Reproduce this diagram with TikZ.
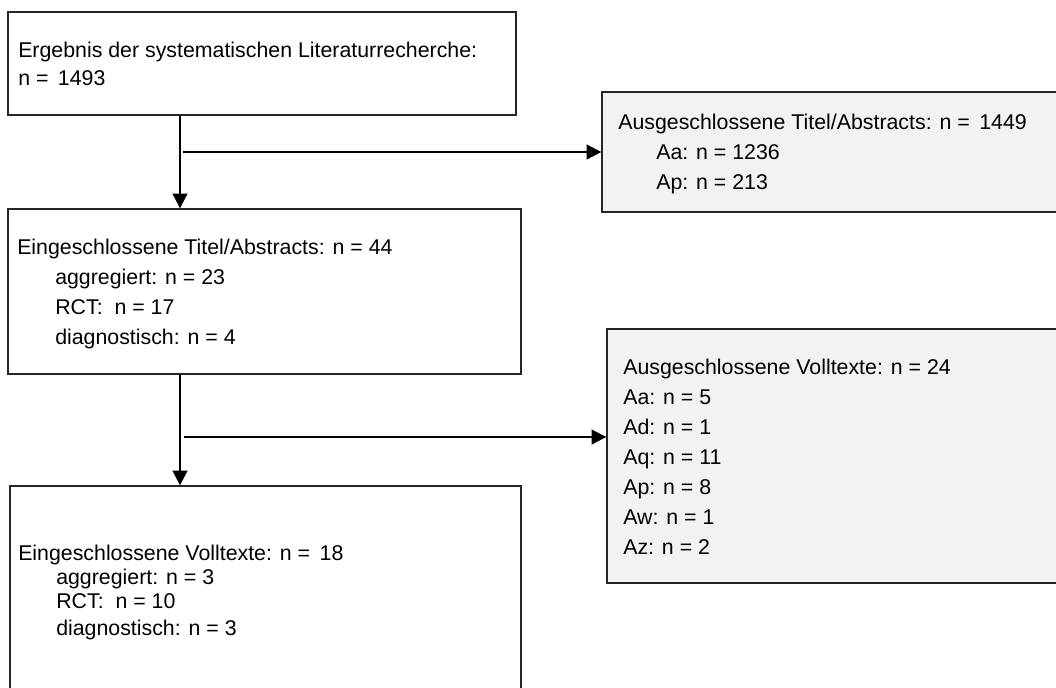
\documentclass[tikz,border=0pt]{standalone}
\usepackage{fontspec}
\setmainfont{Liberation Sans}
\usetikzlibrary{arrows.meta,fit}

\newcommand{\einzug}{\hspace*{28.5pt}}

\tikzset{
  box/.style={draw=black!85, line width=1pt, inner sep=0pt},
  grau/.style={fill=black!5},
  txt/.style={anchor=north west, inner sep=0pt, align=left,
    font=\fontsize{16}{22.5}\selectfont},
  pfeil/.style={line width=1.4pt, -{Triangle[length=11pt,width=11pt]}}
}

\begin{document}
\begin{tikzpicture}[x=0.75pt, y=-0.75pt]
\useasboundingbox (0,0) rectangle (1056,687);
\clip (0,0) rectangle (1056,687);
\fill[white] (0,0) rectangle (1056,687);
% Kaesten
\node[box, fit={(8,12) (516,115)}] (recherche) {};
\node[box, grau, fit={(602,92) (1066,212)}] (ausTA) {};
\node[box, fit={(8,209) (521,374)}] (eingTA) {};
\node[box, grau, fit={(607,329) (1066,583)}] (ausVT) {};
\node[box, fit={(10,486) (521,700)}] (eingVT) {};
% Texte
\node[txt] (t-recherche) at (18,42)
  {Ergebnis der systematischen Literaturrecherche:\\[-1.5pt] n = \,1493};
\node[txt] (t-ausTA) at (618,114)
  {Ausgeschlossene Titel/Abstracts: n = \,1449\\
   \einzug Aa: n = 1236\\
   \einzug Ap: n = 213};
\node[txt] (t-eingTA) at (17,239)
  {Eingeschlossene Titel/Abstracts: n = 44\\
   \einzug aggregiert: n = 23\\
   \einzug RCT: ~n = 17\\
   \einzug diagnostisch: n = 4};
\node[txt] (t-ausVT) at (623,359)
  {Ausgeschlossene Volltexte: n = 24\\
   Aa: n = 5\\
   Ad: n = 1\\
   Aq: n = 11\\
   Ap: n = 8\\
   Aw: n = 1\\
   Az: n = 2};
\node[txt, font=\fontsize{16}{18}\selectfont] (t-eingVT) at (18,545)
  {Eingeschlossene Volltexte: n = \,18\\
   \einzug aggregiert: n = 3\\
   \einzug RCT: ~n = 10\\[2.25pt]
   \einzug diagnostisch: n = 3};
% Pfeile
\coordinate (achse) at (180,0);
\coordinate (abzweig1) at (183,152);
\coordinate (abzweig2) at (184,437);
\draw[pfeil] (recherche.south -| achse) -- (eingTA.north -| achse);
\draw[pfeil] (abzweig1) -- (ausTA.west |- abzweig1);
\draw[pfeil] (eingTA.south -| achse) -- (eingVT.north -| achse);
\draw[pfeil] (abzweig2) -- (ausVT.west |- abzweig2);
\end{tikzpicture}
\end{document}
